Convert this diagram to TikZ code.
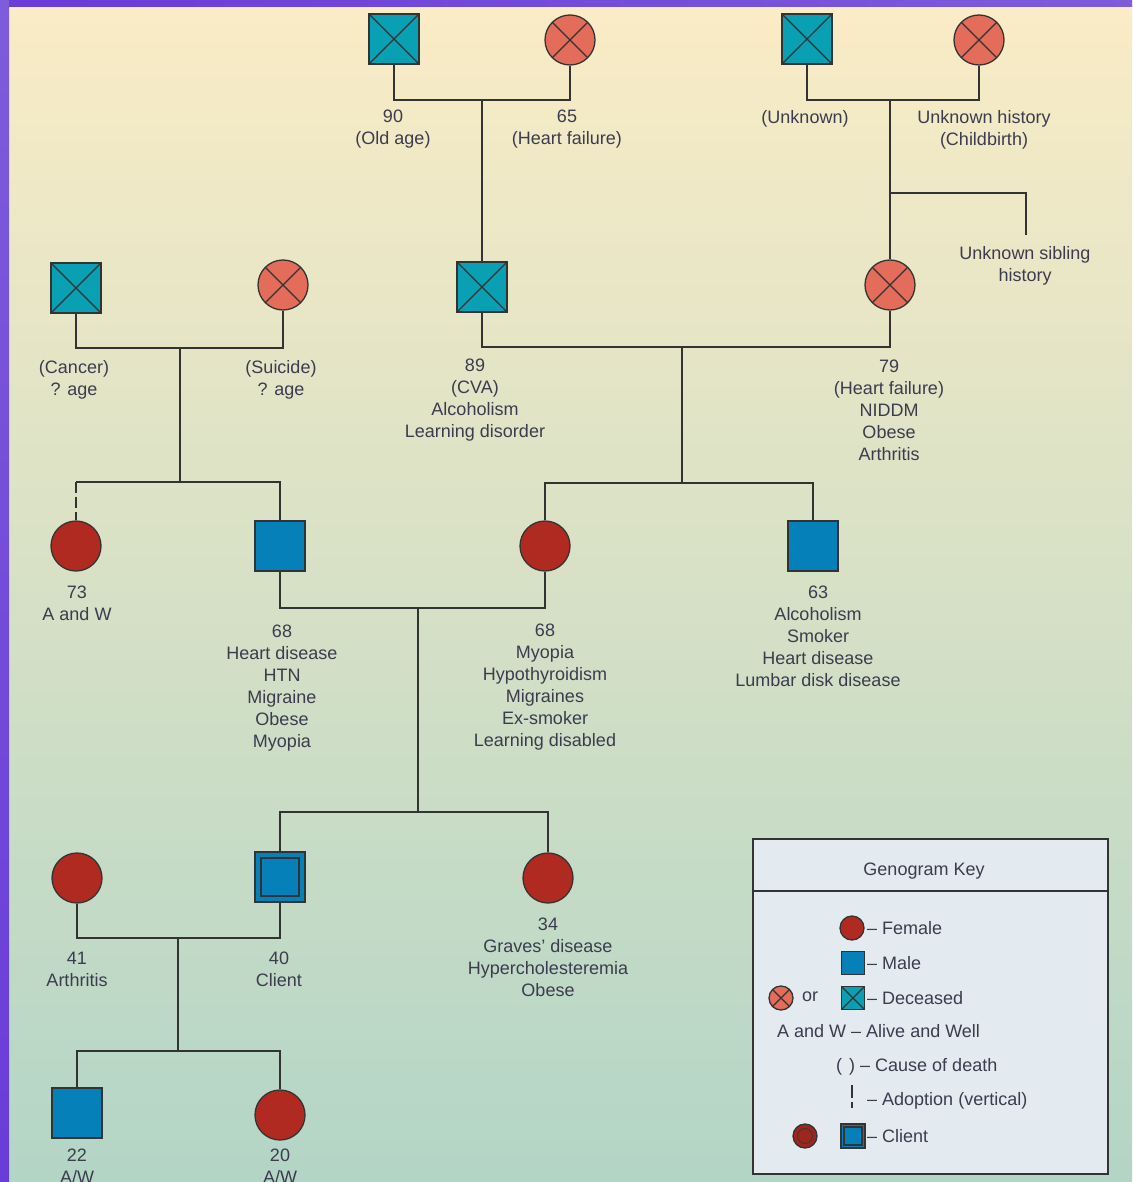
\documentclass[tikz,border=0pt]{standalone}
\usepackage{fontspec}
\setmainfont{Liberation Sans}
\usetikzlibrary{calc}
\definecolor{lnc}{HTML}{333333}
\definecolor{malec}{HTML}{0580B8}
\definecolor{femc}{HTML}{B02A22}
\definecolor{dmalec}{HTML}{0AA0B4}
\definecolor{dfemc}{HTML}{E46C5A}
\definecolor{txtc}{HTML}{3C3C4E}
\definecolor{bgtop}{HTML}{FAECC6}
\definecolor{bgmid}{HTML}{D9DFC6}
\definecolor{bgbot}{HTML}{B3D5C6}
\definecolor{keyfill}{HTML}{E3EAF0}
\definecolor{purp}{HTML}{6A3CD8}
\definecolor{purp2}{HTML}{7E5CDA}
\begin{document}
\begin{tikzpicture}[x=1pt,y=-1pt,
  sym/.style={draw=lnc, line width=1.3pt, inner sep=0pt, minimum size=50pt},
  male/.style={sym, rectangle, fill=malec},
  female/.style={sym, circle, fill=femc},
  xmark/.style={path picture={\draw[lnc, line width=1.3pt]
      (path picture bounding box.north west) -- (path picture bounding box.south east)
      (path picture bounding box.north east) -- (path picture bounding box.south west);}},
  dmale/.style={sym, rectangle, fill=dmalec, xmark},
  dfemale/.style={sym, circle, fill=dfemc, xmark},
  client/.style={male, path picture={\draw[lnc, line width=1.6pt]
      ($(path picture bounding box.north west)+(6pt,-6pt)$) rectangle
      ($(path picture bounding box.south east)+(-6pt,6pt)$);}},
  kclient/.style={male, line width=1.8pt, path picture={\draw[lnc, line width=1.2pt]
      ($(path picture bounding box.north west)+(3pt,-3pt)$) rectangle
      ($(path picture bounding box.south east)+(-3pt,3pt)$);}},
  kclientf/.style={sym, circle, fill=femc!90!black, path picture={\draw[lnc!70!femc, line width=1.2pt]
      (path picture bounding box.center) circle (7.5pt);}},
  lbl/.style={font=\fontsize{18}{22}\selectfont, text=txtc, align=center, inner sep=0pt, anchor=north},
  keytxt/.style={font=\fontsize{18}{22}\selectfont, text=txtc, inner sep=0pt},
  link/.style={draw=lnc, line width=1.8pt}
]
\useasboundingbox (0,0) rectangle (1132,1182);
\clip (0,0) rectangle (1132,1182);
% background
\shade[top color=bgtop, middle color=bgmid, bottom color=bgbot] (0,0) rectangle (1132,1182);
\shade[left color=purp, right color=purp2] (0,0) rectangle (1132,7);
\shade[top color=purp2, bottom color=purp] (0,0) rectangle (9,1182);

% generation 1
\node[dmale] (gf1) at (394,39) {};
\node[dfemale] (gm1) at (570,40) {};
\node[dmale] (gf2) at (807,39) {};
\node[dfemale] (gm2) at (979,40) {};
% generation 2
\node[dmale] (gf3) at (76,288) {};
\node[dfemale] (gm3) at (283,285) {};
\node[dmale] (p89) at (482,287) {};
\node[dfemale] (p79) at (890,285) {};
% generation 3
\node[female] (p73) at (76,546) {};
\node[male] (p68m) at (280,546) {};
\node[female] (p68f) at (545,546) {};
\node[male] (p63) at (813,546) {};
% generation 4
\node[female] (p41) at (77,878) {};
\node[client] (p40) at (280,877) {};
\node[female] (p34) at (548,878) {};
% generation 5
\node[male] (p22) at (77,1113) {};
\node[female] (p20) at (280,1115) {};

% connectors
\coordinate (m1) at (482,100);
\draw[link] (gf1.south) |- (m1) -| (gm1.south);
\draw[link] (m1) -- (p89.north);
\coordinate (m2) at (890,100);
\draw[link] (gf2.south) |- (m2) -| (gm2.south);
\draw[link] (m2) -- (p79.north);
\coordinate (sib) at (890,193);
\coordinate (sibend) at (1026,235);
\draw[link] (sib) -| (sibend);

\coordinate (m3) at (180,348);
\draw[link] (gf3.south) |- (m3) -| (gm3.south);
\coordinate (s3) at (180,482);
\draw[link] (m3) -- (s3);
\coordinate (s3l) at (76,482);
\draw[link] (s3l) -| (p68m.north);
\draw[link, dash pattern=on 11pt off 4pt] (s3l) -- (p73.north);

\coordinate (m4) at (682,347);
\draw[link] (p89.south) |- (m4) -| (p79.south);
\coordinate (s4) at (682,483);
\draw[link] (m4) -- (s4);
\draw[link] (p68f.north) |- (s4) -| (p63.north);

\coordinate (m5) at (418,608);
\draw[link] (p68m.south) |- (m5) -| (p68f.south);
\coordinate (s5) at (418,812);
\draw[link] (m5) -- (s5);
\draw[link] (p40.north) |- (s5) -| (p34.north);

\coordinate (m6) at (178,938);
\draw[link] (p41.south) |- (m6) -| (p40.south);
\coordinate (s6) at (178,1051);
\draw[link] (m6) -- (s6);
\draw[link] (p22.north) |- (s6) -| (p20.north);

% labels
\node[lbl] (l90) at (393,110) {90\\(Old age)};
\node[lbl] (l65) at (567,110) {65\\(Heart failure)};
\node[lbl] (lunk) at (805,110) {(Unknown)};
\node[lbl] (luh) at (984,110) {Unknown history\\(Childbirth)};
\node[lbl] (lsib) at (1025,246) {Unknown sibling\\history};
\node[lbl] (lcan) at (74,360) {(Cancer)\\? age};
\node[lbl] (lsui) at (281,360) {(Suicide)\\? age};
\node[lbl] (l89) at (475,359) {89\\(CVA)\\Alcoholism\\Learning disorder};
\node[lbl] (l79) at (889,360) {79\\(Heart failure)\\NIDDM\\Obese\\Arthritis};
\node[lbl] (l73) at (77,586) {73\\A and W};
\node[lbl] (l68m) at (282,625) {68\\Heart disease\\HTN\\Migraine\\Obese\\Myopia};
\node[lbl] (l68f) at (545,624) {68\\Myopia\\Hypothyroidism\\Migraines\\Ex-smoker\\Learning disabled};
\node[lbl] (l63) at (818,586) {63\\Alcoholism\\Smoker\\Heart disease\\Lumbar disk disease};
\node[lbl] (l41) at (77,952) {41\\Arthritis};
\node[lbl] (l40) at (279,952) {40\\Client};
\node[lbl] (l34) at (548,918) {34\\Graves’ disease\\Hypercholesteremia\\Obese};
\node[lbl] (l22) at (77,1149) {22\\A/W};
\node[lbl] (l20) at (280,1149) {20\\A/W};

% key
\node[draw=lnc, line width=1.8pt, fill=keyfill, minimum width=355pt, minimum height=335pt,
      inner sep=0pt, anchor=north west] (key) at (752,838) {};
\coordinate (kh) at (752,891);
\draw[link] (kh) -- (kh -| key.east);
\node[keytxt] (ktitle) at (924,871) {Genogram Key};
\node[female, minimum size=24pt] (kf) at (852,928) {};
\node[keytxt, anchor=west] (kft) at (867,928) {– Female};
\node[male, minimum size=23pt] (km) at (853,963) {};
\node[keytxt, anchor=west] (kmt) at (867,963) {– Male};
\node[dfemale, minimum size=24pt] (kdf) at (781,998) {};
\node[keytxt] (kor) at (810,997) {or};
\node[dmale, minimum size=23pt] (kdm) at (853,998) {};
\node[keytxt, anchor=west] (kdt) at (867,998) {– Deceased};
\node[keytxt, anchor=west] (kaw) at (777,1031) {A and W – Alive and Well};
\node[keytxt, anchor=west] (kcd) at (836,1067) {(\hspace{7pt}) – Cause of death};
\coordinate (kat) at (852,1085);
\coordinate (kab) at (852,1108);
\draw[link, dash pattern=on 13pt off 4pt] (kat) -- (kab);
\node[keytxt, anchor=west] (kad) at (867,1101) {– Adoption (vertical)};
\node[kclientf, minimum size=24pt] (kcf) at (805,1136) {};
\node[kclient, minimum size=24pt] (kcm) at (853,1136) {};
\node[keytxt, anchor=west] (kct) at (867,1136) {– Client};
\end{tikzpicture}
\end{document}
